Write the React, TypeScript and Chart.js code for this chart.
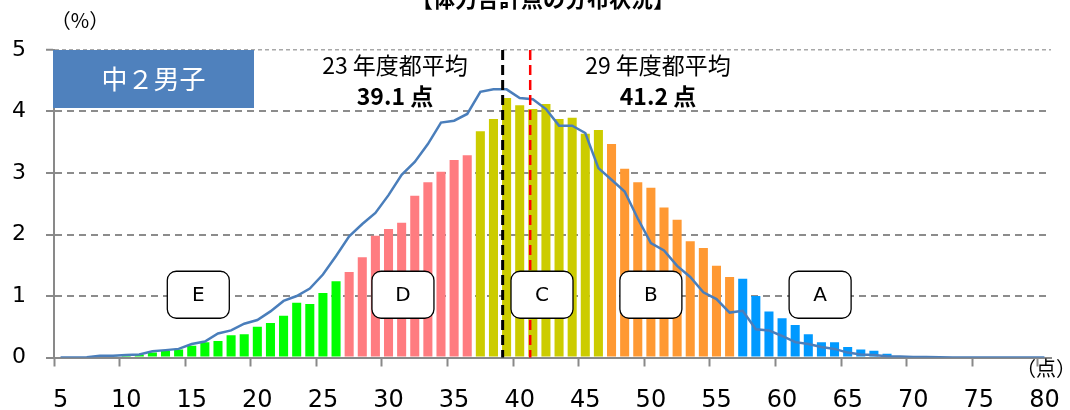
import React, { useEffect, useRef } from 'react';
import { Chart, registerables } from 'chart.js';

Chart.register(...registerables);

// score categories (点)
const categories = [
  '5', '6', '7', '8', '9', '10', '11', '12', '13', '14', '15', '16', '17', '18', '19', '20',
  '21', '22', '23', '24', '25', '26', '27', '28', '29', '30', '31', '32', '33', '34', '35',
  '36', '37', '38', '39', '40', '41', '42', '43', '44', '45', '46', '47', '48', '49', '50',
  '51', '52', '53', '54', '55', '56', '57', '58', '59', '60', '61', '62', '63', '64', '65',
  '66', '67', '68', '69', '70', '71', '72', '73', '74', '75', '76', '77', '78', '79', '80',
];
const categoryStart = 5;
const tickLabels = ['5', '10', '15', '20', '25', '30', '35', '40', '45', '50', '55', '60', '65', '70', '75', '80'];

// 29年度 distribution (%), bars
const dist29 = [
  0, 0, 0, 0.01, 0.02, 0.05, 0.05, 0.08, 0.11, 0.13, 0.19, 0.25, 0.27, 0.36, 0.38, 0.5,
  0.56, 0.68, 0.89, 0.87, 1.05, 1.24, 1.39, 1.63, 1.98, 2.09, 2.19, 2.63, 2.85, 3.02, 3.21,
  3.29, 3.68, 3.88, 4.22, 4.1, 4.04, 4.12, 3.88, 3.9, 3.64, 3.7, 3.47, 3.07, 2.85, 2.76,
  2.44, 2.24, 1.89, 1.78, 1.49, 1.31, 1.28, 1.0, 0.75, 0.64, 0.53, 0.38, 0.25, 0.25, 0.17,
  0.13, 0.11, 0.06, 0.02, 0.01, 0, 0, 0, 0, 0, 0, 0, 0, 0, 0,
];

// 23年度 distribution (%), line
const dist23 = [
  0, 0, 0.005, 0.03, 0.03, 0.04, 0.05, 0.1, 0.12, 0.14, 0.22, 0.26, 0.39, 0.44, 0.55, 0.61,
  0.75, 0.92, 1.0, 1.12, 1.35, 1.65, 1.97, 2.17, 2.35, 2.64, 2.97, 3.18, 3.47, 3.82, 3.85,
  3.96, 4.32, 4.36, 4.36, 4.22, 4.2, 4.04, 3.77, 3.77, 3.65, 3.08, 2.89, 2.7, 2.26, 1.86,
  1.74, 1.49, 1.31, 1.06, 0.95, 0.73, 0.76, 0.46, 0.44, 0.35, 0.25, 0.22, 0.17, 0.14, 0.08,
  0.05, 0.04, 0.02, 0.015, 0.01, 0.01, 0.005, 0, 0, 0, 0, 0, 0, 0, 0,
];

// grades
const gradeNames = ['E', 'D', 'C', 'B', 'A'];
const gradeMinScore = [5, 27, 37, 47, 57];
const gradeColors = ['#00FF00', '#FF7C80', '#CCCC00', '#FF9933', '#0099FF'];
const gradeLabelScore = [15.5, 31.1, 41.7, 50.0, 62.9];
const gradeLabelValue = 1.02;

// averages
const avg23 = 39.1;
const avg29 = 41.2;
const avgLabels = ['23 年度都平均', '29 年度都平均'];
const avgValueLabels = ['39.1 点', '41.2 点'];

const titleText = '【体力合計点の分布状況】';
const groupText = '中２男子';

const AXIS_FONT = '"DejaVu Sans", sans-serif';
const JP_FONT = '"Noto Sans CJK JP", sans-serif';

function gradeIndex(score: number): number {
  let g = 0;
  for (let i = 0; i < gradeMinScore.length; i++) if (score >= gradeMinScore[i]) g = i;
  return g;
}

const barColors = categories.map((c) => gradeColors[gradeIndex(Number(c))]);

function roundRect(ctx: CanvasRenderingContext2D, x: number, y: number, w: number, h: number, r: number) {
  ctx.beginPath();
  ctx.moveTo(x + r, y);
  ctx.lineTo(x + w - r, y);
  ctx.arcTo(x + w, y, x + w, y + r, r);
  ctx.lineTo(x + w, y + h - r);
  ctx.arcTo(x + w, y + h, x + w - r, y + h, r);
  ctx.lineTo(x + r, y + h);
  ctx.arcTo(x, y + h, x, y + h - r, r);
  ctx.lineTo(x, y + r);
  ctx.arcTo(x, y, x + r, y, r);
  ctx.closePath();
}

const overlayPlugin = {
  id: 'overlay',
  afterDatasetsDraw(chart: any) {
    const { ctx, scales } = chart;
    const x = scales.x;
    const y = scales.y;
    const top = y.getPixelForValue(5);
    const bottom = y.getPixelForValue(0);
    const drawV = (v: number, color: string, w: number) => {
      const px = x.getPixelForValue(v - categoryStart - 0.4);
      ctx.save();
      ctx.strokeStyle = color;
      ctx.lineWidth = w;
      ctx.setLineDash([10, 5]);
      ctx.beginPath();
      ctx.moveTo(px, top);
      ctx.lineTo(px, bottom);
      ctx.stroke();
      ctx.restore();
    };
    drawV(avg23, '#000000', 3);
    drawV(avg29, '#FF0000', 2.5);
  },
  afterDraw(chart: any) {
    const { ctx, scales } = chart;
    const x = scales.x;
    const y = scales.y;
    ctx.save();
    ctx.fillStyle = '#000';
    ctx.textAlign = 'center';

    // title (cut at top)
    ctx.textBaseline = 'alphabetic';
    ctx.font = `bold 22px ${JP_FONT}`;
    ctx.fillText(titleText, 543, 7);

    // units
    ctx.textBaseline = 'middle';
    ctx.font = `20px ${JP_FONT}`;
    ctx.fillText('（%）', 80, 20);
    ctx.fillText('（点）', 1046, 368);

    // group box
    ctx.fillStyle = '#4F81BD';
    ctx.fillRect(53, 50, 201, 58);
    ctx.fillStyle = '#FFFFFF';
    ctx.font = `26px ${JP_FONT}`;
    ctx.fillText(groupText, 153.5, 79);

    // average labels
    ctx.fillStyle = '#000';
    const avgCenters = [395, 658];
    for (let i = 0; i < 2; i++) {
      ctx.font = `23px ${JP_FONT}`;
      ctx.fillText(avgLabels[i], avgCenters[i], 65);
      ctx.font = `bold 23px ${JP_FONT}`;
      ctx.fillText(avgValueLabels[i], avgCenters[i], 96);
    }

    // grade label boxes
    const bw = 62;
    const bh = 47;
    gradeNames.forEach((g, i) => {
      const cx = x.getPixelForValue(gradeLabelScore[i] - categoryStart);
      const cy = y.getPixelForValue(gradeLabelValue);
      roundRect(ctx, cx - bw / 2, cy - bh / 2, bw, bh, 9);
      ctx.fillStyle = '#FFFFFF';
      ctx.fill();
      ctx.lineWidth = 1.3;
      ctx.strokeStyle = '#000';
      ctx.stroke();
      ctx.fillStyle = '#000';
      ctx.font = `20px ${AXIS_FONT}`;
      ctx.fillText(g, cx, cy + 1);
    });
    ctx.restore();
  },
};

export default function App() {
  const ref = useRef<HTMLCanvasElement>(null);
  useEffect(() => {
    document.body.style.margin = '0';
    const canvas = ref.current;
    if (!canvas) return;
    const chart = new Chart(canvas, {
      type: 'bar',
      data: {
        labels: categories,
        datasets: [
          {
            type: 'line',
            label: '23年度',
            data: dist23,
            borderColor: '#4A7EBB',
            borderWidth: 2.5,
            pointRadius: 0,
            tension: 0,
            fill: false,
            order: 0,
          } as any,
          {
            type: 'bar',
            label: '29年度',
            data: dist29,
            backgroundColor: barColors,
            barPercentage: 0.69,
            categoryPercentage: 1,
            order: 1,
          } as any,
        ],
      },
      options: {
        responsive: false,
        animation: false,
        devicePixelRatio: 1,
        layout: { padding: { top: 50, right: 19, left: 0, bottom: 0 } },
        plugins: {
          legend: { display: false },
          tooltip: { enabled: false },
          title: { display: false },
        },
        scales: {
          x: {
            type: 'category',
            offset: true,
            grid: {
              offset: true,
              drawOnChartArea: false,
              drawTicks: true,
              tickLength: 9,
              tickWidth: 2,
              color: 'rgba(0,0,0,0)',
              tickColor: (c: any) =>
                c.index !== undefined && tickLabels.includes(categories[c.index]) ? '#898989' : 'rgba(0,0,0,0)',
            },
            border: { display: true, color: '#898989', width: 2 },
            ticks: {
              autoSkip: false,
              maxRotation: 0,
              minRotation: 0,
              padding: 20,
              color: '#000',
              font: { family: AXIS_FONT, size: 24 },
              callback: (_v: any, i: number) => (tickLabels.includes(categories[i]) ? categories[i] : ''),
            },
            afterFit: (s: any) => {
              s.height = 52.5;
              s.paddingLeft = 0;
              s.paddingRight = 0;
            },
          } as any,
          y: {
            min: 0,
            max: 5,
            ticks: {
              stepSize: 1,
              padding: 20,
              color: '#000',
              font: { family: AXIS_FONT, size: 22 },
            },
            grid: {
              drawTicks: true,
              tickLength: 8,
              tickWidth: 2,
              tickColor: '#898989',
              color: (c: any) =>
                c.tick && c.tick.value === 0 ? 'rgba(0,0,0,0)' : c.tick && c.tick.value === 5 ? '#a8a8a8' : '#8c8c8c',
              lineWidth: (c: any) => (c.tick && c.tick.value === 5 ? 1.5 : 2),
            },
            border: {
              display: true,
              color: '#898989',
              width: 2,
              dash: (c: any) => (c.tick && c.tick.value === 5 ? [4, 3] : [7, 5]),
            },
            afterFit: (s: any) => {
              s.width = 54;
            },
          } as any,
        },
      },
      plugins: [overlayPlugin],
    });
    return () => chart.destroy();
  }, []);
  return (
    <div style={{ width: 1070, height: 410 }}>
      <canvas ref={ref} width={1070} height={410} style={{ display: 'block' }} />
    </div>
  );
}
